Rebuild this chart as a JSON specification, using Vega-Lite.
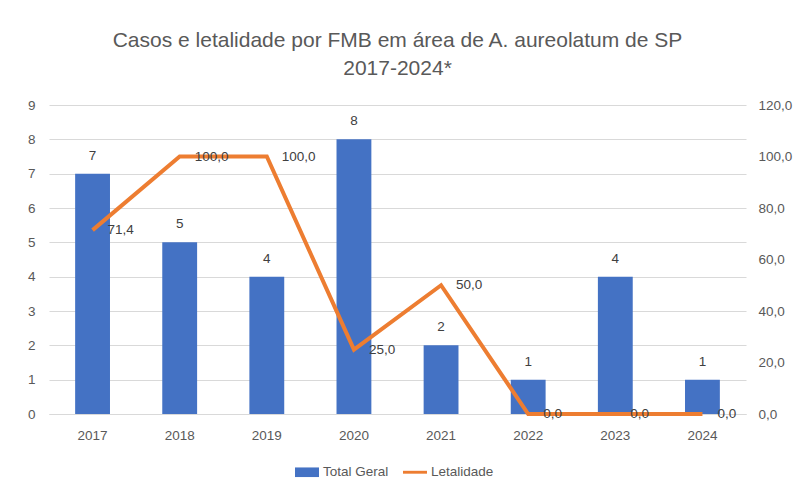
{
  "$schema": "https://vega.github.io/schema/vega-lite/v6.json",
  "width": 697,
  "height": 309,
  "autosize": {"type": "none"},
  "padding": {"left": 49, "top": 105, "right": 54, "bottom": 77},
  "background": "white",
  "config": {
    "locale": {"number": {"decimal": ",", "thousands": ".", "grouping": [3], "currency": ["R$", ""]}},
    "view": {"stroke": null},
    "font": "Liberation Sans",
    "axis": {"labelColor": "#595959", "labelFontSize": 13.5, "labelFont": "Liberation Sans", "titleColor": "#595959"},
    "legend": {"labelColor": "#595959", "labelFontSize": 13.5}
  },
  "title": {
    "text": ["Casos e letalidade por FMB em área de A. aureolatum de SP", "2017-2024*"],
    "fontSize": 21,
    "fontWeight": "normal",
    "color": "#595959",
    "font": "Liberation Sans",
    "anchor": "middle",
    "lineHeight": 28,
    "offset": 19
  },
  "data": {
    "values": [
      {"ano": "2017", "casos": 7, "letalidade": 71.4},
      {"ano": "2018", "casos": 5, "letalidade": 100.0},
      {"ano": "2019", "casos": 4, "letalidade": 100.0},
      {"ano": "2020", "casos": 8, "letalidade": 25.0},
      {"ano": "2021", "casos": 2, "letalidade": 50.0},
      {"ano": "2022", "casos": 1, "letalidade": 0.0},
      {"ano": "2023", "casos": 4, "letalidade": 0.0},
      {"ano": "2024", "casos": 1, "letalidade": 0.0}
    ]
  },
  "encoding": {
    "x": {
      "field": "ano", "type": "nominal",
      "scale": {"paddingInner": 0.6, "paddingOuter": 0.3},
      "axis": {"title": null, "labelAngle": 0, "ticks": false, "domainColor": "#d9d9d9", "labelPadding": 14, "grid": false}
    }
  },
  "layer": [
    {
      "encoding": {
        "y": {
          "field": "casos", "type": "quantitative",
          "scale": {"domain": [0, 9]},
          "axis": {"title": null, "values": [0,1,2,3,4,5,6,7,8,9], "domain": false, "ticks": false, "gridColor": "#d9d9d9", "labelPadding": 14}
        }
      },
      "layer": [
        {
          "mark": {"type": "bar", "color": "#4472C4"},
          "encoding": {
            "color": {
              "datum": "Total Geral", "type": "nominal",
              "scale": {"domain": ["Total Geral", "Letalidade"], "range": ["#4472C4", "#ED7D31"]},
              "legend": {
                "title": null, "orient": "none", "direction": "horizontal",
                "legendX": 246, "legendY": 355,
                "symbolSize": 576, "symbolStrokeWidth": 0, "columnPadding": 14, "labelOffset": 4,
                "encode": {
                  "symbols": {
                    "update": {
                      "shape": {"signal": "datum.value === 'Letalidade' ? 'M-1,-0.12H1V0.12H-1Z' : 'M-1,-0.4H1V0.4H-1Z'"},
                      "strokeWidth": {"value": 0}
                    }
                  }
                }
              }
            }
          }
        },
        {
          "mark": {"type": "text", "dy": -11, "fontSize": 13.5, "color": "#404040", "baseline": "bottom"},
          "encoding": {
            "text": {"field": "casos", "type": "quantitative"}
          }
        }
      ]
    },
    {
      "encoding": {
        "y": {
          "field": "letalidade", "type": "quantitative",
          "scale": {"domain": [0, 120]},
          "axis": {"title": null, "orient": "right", "values": [0,20,40,60,80,100,120], "format": ".1f", "domain": false, "ticks": false, "grid": false, "labelPadding": 12}
        }
      },
      "layer": [
        {
          "mark": {"type": "line", "color": "#ED7D31", "strokeWidth": 4}
        },
        {
          "mark": {"type": "text", "dx": 15, "align": "left", "baseline": "middle", "fontSize": 13.5, "color": "#404040"},
          "encoding": {
            "text": {"field": "letalidade", "type": "quantitative", "format": ".1f"}
          }
        }
      ]
    }
  ],
  "resolve": {"scale": {"y": "independent"}}
}
